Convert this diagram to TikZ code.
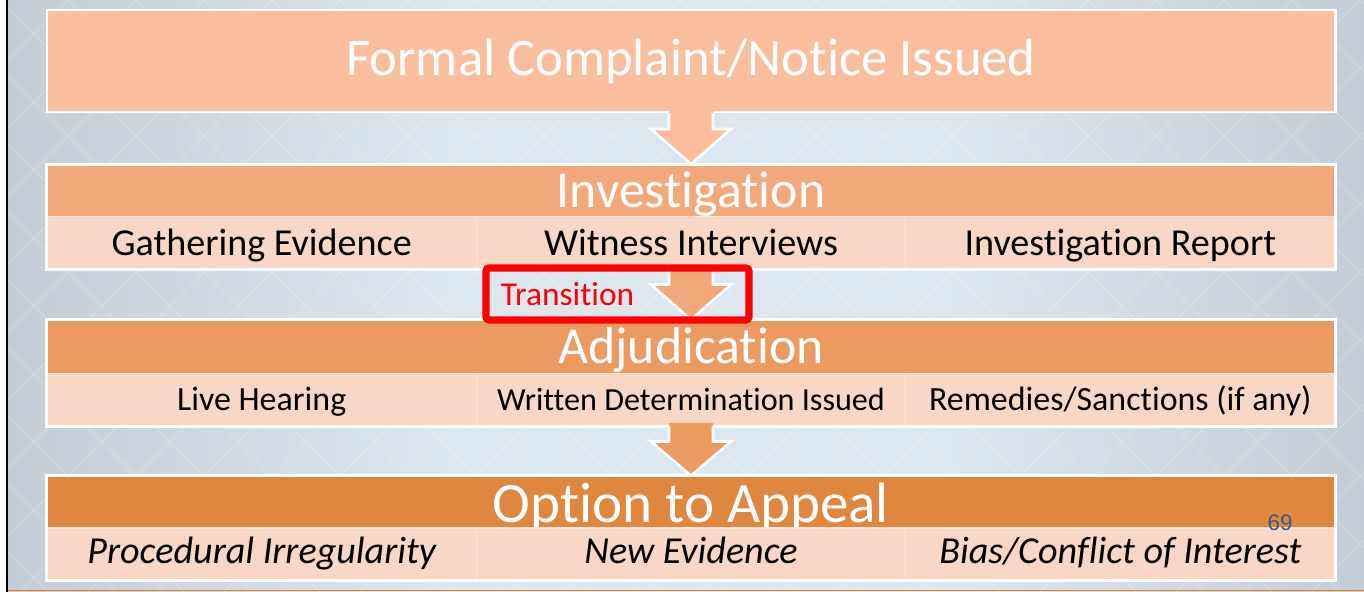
\documentclass[tikz,border=0pt]{standalone}
\usepackage{fontspec}
\setmainfont{Carlito}[Ligatures={NoCommon,NoContextual}]
\newfontfamily\numfont{Liberation Sans}
\usetikzlibrary{calc}

\definecolor{boxA}{HTML}{F8BE9E}
\definecolor{boxB}{HTML}{F2A87B}
\definecolor{boxC}{HTML}{EB9A61}
\definecolor{boxD}{HTML}{DF873F}
\definecolor{cellfill}{HTML}{FAD7C5}
\definecolor{cellline}{HTML}{FCE6DA}
\definecolor{bgmid}{HTML}{DCE6EE}
\definecolor{bgside}{HTML}{C4CDD5}
\definecolor{pagenum}{HTML}{3B5A8C}

\tikzset{
	headbox/.style={fill=#1, minimum width=25.76cm, minimum height=1.04cm, inner sep=0pt, text=white, text height=0.68cm, text depth=0pt, font=\fontsize{29.5}{30}\selectfont},
	cellbox/.style={fill=cellfill, draw=cellline, line width=0.6pt, minimum width=8.587cm, minimum height=1.04cm, inner sep=0pt, text depth=0pt},
	frameline/.style={draw=white, line width=1.7pt},
	arrowline/.style={white, line width=1.5pt, line join=miter},
}

\begin{document}
\begin{tikzpicture}[line width=1pt]

	\useasboundingbox (0, 0) rectangle (27.28, -11.84);
	\fill[white] (0, 0) rectangle (27.28, -11.84);
	\fill[left color=bgside, right color=bgmid] (0.16, 0) rectangle (9, -11.84); % Фон
	\fill[bgmid] (8.99, 0) rectangle (19.01, -11.84);
	\fill[left color=bgmid, right color=bgside] (19, 0) rectangle (27.28, -11.84);
	\begin{scope}
		\clip (0.16, 0) rectangle (27.28, -11.84);
		\foreach \k in {-10, ..., 30} {
			\draw[white, opacity=0.25, line width=0.5pt] (\k*1.36, 0) -- ++(12, -12);
			\draw[white, opacity=0.25, line width=0.5pt] (\k*1.36, 0) -- ++(-12, -12);
		}
	\end{scope}
	\draw[black, line width=1.1pt] (0.14, 0) -- (0.14, -11.84); % Левая линия
	\draw[boxD, line width=1.1pt] (0.16, -11.81) -- (27.28, -11.81); % Нижняя линия

	\node[headbox=boxA, frameline, minimum height=2.04cm, text height=0.6cm, font=\fontsize{30}{30}\selectfont] (tfc) at (13.82, -1.22) {Formal Complaint/Notice Issued};

	\node[headbox=boxB] (tinv) at (13.82, -3.82) {Investigation};
	\begin{scope}[font=\fontsize{21.7}{22}\selectfont, text height=0.52cm]
		\node[cellbox] (inv1) at (5.233, -4.85) {Gathering Evidence};
		\node[cellbox] (inv2) at (13.82, -4.85) {Witness Interviews};
		\node[cellbox] (inv3) at (22.407, -4.85) {Investigation Report};
	\end{scope}
	\draw[frameline] (tinv.north west) rectangle (inv3.south east);

	\node[headbox=boxC] (tadj) at (13.82, -6.93) {Adjudication};
	\begin{scope}[font=\fontsize{19.3}{20}\selectfont, text height=0.42cm]
		\node[cellbox] (adj1) at (5.233, -7.99) {Live Hearing};
		\node[cellbox, font=\fontsize{18.3}{19}\selectfont] (adj2) at (13.82, -7.99) {Written Determination Issued};
		\node[cellbox] (adj3) at (22.407, -7.99) {Remedies/Sanctions (if any)};
	\end{scope}
	\draw[frameline] (tadj.north west) rectangle (adj3.south east);

	\node[headbox=boxD, text height=0.78cm, font=\fontsize{32.5}{33}\selectfont] (tapp) at (13.82, -10.05) {Option to Appeal};
	\begin{scope}[font=\fontsize{21.7}{22}\selectfont\itshape, text height=0.36cm]
		\node[cellbox] (app1) at (5.233, -11.08) {Procedural Irregularity};
		\node[cellbox] (app2) at (13.82, -11.08) {New Evidence};
		\node[cellbox] (app3) at (22.407, -11.08) {Bias/Conflict of Interest};
	\end{scope}
	\draw[frameline] (tapp.north west) rectangle (app3.south east);

	% Стрелки
	\foreach \s/\t/\c in {tfc/tinv/boxA, inv2/tadj/boxB, adj2/tapp/boxC} {
		\fill[\c] ($(\s.south)+(-0.44, 0.06)$) -- ($(\s.south)+(-0.44, -0.31)$) -- ($(\s.south)+(-0.8, -0.31)$) -- (\t.north) -- ($(\s.south)+(0.8, -0.31)$) -- ($(\s.south)+(0.44, -0.31)$) -- ($(\s.south)+(0.44, 0.06)$) -- cycle;
		\draw[arrowline] ($(\s.south)+(-0.44, 0)$) -- ($(\s.south)+(-0.44, -0.31)$) -- ($(\s.south)+(-0.8, -0.31)$) -- (\t.north) -- ($(\s.south)+(0.8, -0.31)$) -- ($(\s.south)+(0.44, -0.31)$) -- ($(\s.south)+(0.44, 0)$);
	}

	\node[draw=red, line width=4pt, rounded corners=0.06cm, minimum width=5.26cm, minimum height=1.04cm, inner sep=0pt] (trans) at (12.35, -5.88) {}; % Рамка
	\node[anchor=base west, text=red, inner sep=0pt, font=\fontsize{19}{19}\selectfont] (translbl) at (10.0, -6.1) {Transition};

	\node[anchor=base, text=pagenum, inner sep=0pt, font=\numfont\fontsize{12.8}{13}\selectfont] (pg) at (25.6, -10.6) {69};

\end{tikzpicture}
\end{document}
